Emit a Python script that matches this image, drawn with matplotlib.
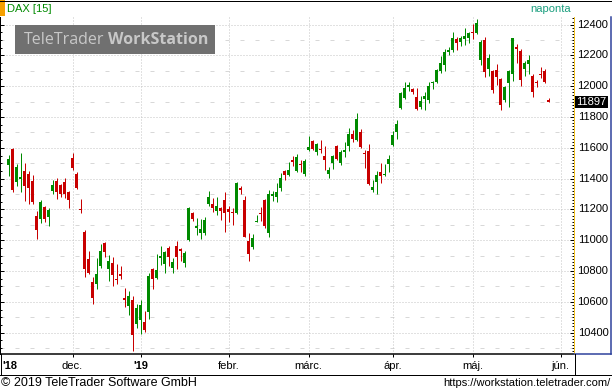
import matplotlib as mpl
mpl.use('Agg')
import matplotlib.pyplot as plt
from matplotlib.lines import Line2D
from matplotlib.patches import Rectangle
import numpy as np
import pandas as pd

plt.rcParams['font.family'] = ['Liberation Sans', 'DejaVu Sans']

# DAX daily candles, 9 Nov 2018 .. 29 May 2019
opens = [11488, 11592, 11380, 11397, 11449, 11430, 11384, 11157, 11138, 11216,
         11151, 11320, 11384, 11358, 11378, 11313, 11534, 11430, 11203, 11053,
         10878, 10729, 10716, 10833, 10982, 10813, 10852, 10748, 10781, 10625,
         10573, 10612, 10456, 10482, 10469, 10534, 10813, 10755, 10884, 10845,
         10949, 10820, 10962, 10943, 10852, 11001, 11177, 11079, 11047, 11047,
         11235, 11235, 11190, 11209, 11261, 11203, 11185, 11177, 11339, 11261,
         10995, 10958, 11120, 11177, 11261, 11047, 11287, 11281, 11339, 11449,
         11423, 11521, 11449, 11495, 11430, 11586, 11644, 11573, 11592, 11547,
         11430, 11501, 11612, 11501, 11573, 11612, 11690, 11651, 11703, 11566,
         11579, 11326, 11378, 11443, 11423, 11495, 11618, 11703, 11858, 11923,
         11995, 11982, 11930, 11865, 11917, 11910, 12021, 12027, 12099, 12138,
         12222, 12235, 12306, 12287, 12306, 12313, 12352, 12345, 12170, 12300,
         12112, 12099, 12105, 12047, 11910, 12021, 12079, 12254, 12229, 12112,
         12144, 12066, 12029, 12079, 12099, 11908]
highs = [11553, 11601, 11495, 11566, 11501, 11449, 11423, 11190, 11261, 11222,
         11209, 11391, 11404, 11365, 11404, 11320, 11566, 11443, 11268, 11066,
         10930, 10761, 10884, 10975, 10988, 10904, 10891, 10846, 10833, 10690,
         10670, 10638, 10586, 10612, 10540, 10787, 10820, 10910, 10962, 10930,
         10962, 10884, 10995, 10949, 10930, 11216, 11183, 11144, 11138, 11151,
         11320, 11274, 11281, 11216, 11313, 11222, 11209, 11378, 11352, 11287,
         11047, 11040, 11164, 11216, 11268, 11326, 11320, 11371, 11436, 11456,
         11508, 11547, 11560, 11521, 11527, 11677, 11651, 11631, 11651, 11612,
         11475, 11553, 11618, 11586, 11638, 11729, 11716, 11826, 11722, 11586,
         11625, 11391, 11449, 11501, 11495, 11553, 11709, 11781, 11962, 12027,
         12027, 11988, 11988, 11936, 11962, 12027, 12034, 12112, 12196, 12242,
         12254, 12352, 12320, 12326, 12378, 12352, 12404, 12436, 12300, 12320,
         12209, 12105, 12144, 12053, 12001, 12105, 12313, 12274, 12242, 12164,
         12203, 12079, 12040, 12125, 12112, 11926]
lows = [11417, 11313, 11352, 11313, 11255, 11235, 11235, 11008, 11112, 11118,
        11092, 11300, 11268, 11281, 11274, 11209, 11456, 11333, 11177, 10761,
        10782, 10586, 10683, 10820, 10891, 10735, 10703, 10716, 10748, 10566,
        10514, 10281, 10430, 10391, 10404, 10488, 10685, 10748, 10839, 10787,
        10833, 10787, 10813, 10865, 10826, 10995, 11125, 11034, 11008, 11034,
        11222, 11183, 11164, 11131, 11053, 11118, 11099, 11170, 11300, 11018,
        10865, 10943, 11118, 11125, 11079, 11021, 11255, 11248, 11320, 11391,
        11417, 11482, 11443, 11443, 11417, 11579, 11586, 11553, 11566, 11456,
        11404, 11462, 11521, 11488, 11540, 11579, 11638, 11644, 11599, 11469,
        11358, 11313, 11300, 11371, 11417, 11443, 11612, 11657, 11852, 11917,
        11969, 11949, 11848, 11852, 11845, 11891, 11982, 12021, 12086, 12099,
        12203, 12222, 12235, 12261, 12268, 12281, 12306, 12339, 12138, 12060,
        12066, 11956, 12008, 11845, 11897, 11865, 12034, 12151, 12001, 12066,
        12079, 11930, 11995, 12053, 12021, 11897]
closes = [11527, 11326, 11475, 11410, 11352, 11339, 11248, 11066, 11248, 11138,
          11196, 11358, 11313, 11300, 11300, 11261, 11469, 11339, 11198, 10813,
          10787, 10625, 10781, 10930, 10923, 10865, 10774, 10744, 10768, 10612,
          10638, 10384, 10560, 10579, 10417, 10768, 10748, 10807, 10897, 10923,
          10891, 10858, 10891, 10930, 10917, 11209, 11138, 11092, 11073, 11131,
          11281, 11209, 11222, 11190, 11177, 11183, 11179, 11371, 11326, 11021,
          10910, 11014, 11125, 11172, 11092, 11300, 11300, 11313, 11404, 11423,
          11456, 11508, 11540, 11491, 11514, 11605, 11592, 11625, 11588, 11521,
          11456, 11547, 11527, 11573, 11586, 11690, 11657, 11787, 11605, 11560,
          11365, 11345, 11423, 11417, 11430, 11527, 11683, 11755, 11956, 11988,
          12008, 11962, 11852, 11904, 11936, 12001, 12027, 12105, 12151, 12222,
          12235, 12313, 12281, 12313, 12326, 12345, 12348, 12410, 12287, 12092,
          12183, 11975, 12060, 11878, 11995, 12099, 12313, 12242, 12040, 12151,
          12170, 11962, 12021, 12073, 12027, 11897]
last_price = 11897

holidays = ['2018-12-24', '2018-12-25', '2018-12-26', '2018-12-31',
            '2019-01-01', '2019-04-19', '2019-04-22', '2019-05-01']
month_labels = ["dec.", "'19", "febr.", "márc.", "ápr.", "máj.", "jún."]
year_label = "'18"

# trading days (candle slots) up to the first June session
days = pd.bdate_range('2018-11-09', '2019-06-03', freq='C', holidays=holidays)
month_start = [i for i in range(1, len(days)) if days[i].month != days[i - 1].month]

GREEN = '#008a00'
RED = '#c80000'
W, H = 612, 392
PX = 72 / 100  # one pixel in points


def fy(py):
    return 1 - py / H


fig = plt.figure(figsize=(W / 100, H / 100), dpi=100)
ax = fig.add_axes([0, fy(354), 574 / W, (354 - 17) / H])

o, h, l, c = map(np.array, (opens, highs, lows, closes))
x = np.arange(len(o))
cols = np.where(c >= o, GREEN, RED)

ax.vlines(x, l, h, colors=cols, lw=PX, zorder=3)
ax.bar(x, np.maximum(np.abs(c - o), 7), bottom=np.minimum(o, c), width=0.75,
       color=cols, lw=0, zorder=4)

ax.set_xlim(-8.5 / 4, (574 - 8.5) / 4)
ax.set_ylim(12400 - (354 - 24.6) / 0.154, 12400 + (24.6 - 17) / 0.154)

# grid
major = np.arange(10400, 12401, 200)
minor = np.arange(10300, 12401, 200)
ax.hlines(major, 0, 1, transform=ax.get_yaxis_transform(), colors='#c4c4c4',
          lw=PX, linestyles=(0, (1, 2)), zorder=1)
ax.hlines(minor, 0, 1, transform=ax.get_yaxis_transform(), colors='#d8d8d8',
          lw=PX, linestyles=(15, (4, 11)), zorder=1)
ax.vlines(month_start, 0, 1, transform=ax.get_xaxis_transform(), colors='#c4c4c4',
          lw=PX, linestyles=(0, (1, 2)), zorder=1)

# axes frame and ticks
for s in ['top', 'right']:
    ax.spines[s].set_visible(False)
ax.spines['left'].set_linewidth(PX)
ax.spines['bottom'].set_linewidth(1.5 * PX)
ax.set_yticks(major)
ax.set_yticks(np.arange(10300, 12450, 50), minor=True)
ax.tick_params(axis='y', which='major', direction='in', length=4 * PX, width=PX,
               labelleft=False)
ax.tick_params(axis='y', which='minor', direction='in', length=2 * PX, width=PX)
ax.set_xticks(month_start)
ax.set_xticklabels([])
ax.tick_params(axis='x', direction='out', length=3 * PX, width=PX)

for i, lab in zip(month_start, month_labels):
    bold = lab.startswith("'")
    ax.text(i, -12 / 337, lab, transform=ax.get_xaxis_transform(), ha='center',
            va='center', fontsize=8, fontweight='bold' if bold else 'normal',
            clip_on=False)
fig.text(2 / W, fy(366), year_label, ha='left', va='center', fontsize=8,
         fontweight='bold')

# right price panel
axr = fig.add_axes([574 / W, fy(354), (611 - 574) / W, (354 - 17) / H])
axr.set_ylim(ax.get_ylim())
axr.set_xlim(0, 1)
axr.set_xticks([])
axr.set_yticks(major)
axr.set_yticks(np.arange(10280, 12450, 20), minor=True)
axr.set_yticklabels([])
axr.tick_params(axis='y', which='major', direction='out', length=4 * PX, width=PX)
axr.tick_params(axis='y', which='minor', direction='out', length=2 * PX, width=PX)
axr.spines['top'].set_visible(False)
axr.spines['left'].set_color('#f0c020')
axr.spines['left'].set_linewidth(PX)
for s in ['right', 'bottom']:
    axr.spines[s].set_color('#2a3f9a')
    axr.spines[s].set_linewidth(1.5 * PX)
for v in major:
    axr.text(0.93, v, str(v), ha='right', va='center', fontsize=8)
axr.text(0.06, last_price, str(last_price), ha='left', va='center', fontsize=8,
         color='white', bbox=dict(boxstyle='square,pad=0.12', fc='black', ec='none'))


# frame lines outside the axes
def hline(py, x0, x1, lw=1.0):
    fig.add_artist(Line2D([x0 / W, x1 / W], [fy(py)] * 2, transform=fig.transFigure,
                          color='black', lw=lw * PX))


def vline(px, y0, y1, lw=1.0):
    fig.add_artist(Line2D([px / W] * 2, [fy(y0), fy(y1)], transform=fig.transFigure,
                          color='black', lw=lw * PX))


hline(0.5, 0, W)
hline(374.5, 0, W)
vline(574.5, 354, 374)
vline(611.5, 354, 374)
vline(0.5, 354, 374)

# header
fig.add_artist(Rectangle((0, fy(16)), 5 / W, 16 / H, transform=fig.transFigure,
                         fc='#f5a000', ec='none'))
fig.text(7 / W, fy(9), 'DAX [15]', ha='left', va='center', fontsize=8, color=GREEN)
fig.text(571 / W, fy(9), 'naponta', ha='right', va='center', fontsize=8,
         color='#1a9e7e')

# logo
fig.add_artist(Rectangle((15 / W, fy(54)), 200 / W, 29 / H, transform=fig.transFigure,
                         fc='#707070', ec='none', zorder=10))
t1 = fig.text(24 / W, fy(39.5), 'TeleTrader', ha='left', va='center', fontsize=11.5,
              color='#c8c8c8', family='Open Sans', zorder=11)
fig.canvas.draw()
x_end = t1.get_window_extent().x1
fig.text((x_end + 4) / W, fy(39.5), 'WorkStation', ha='left', va='center',
         fontsize=11.5, color='#c8c8c8', family='Open Sans', fontweight='bold',
         zorder=11)

# footer
fig.text(1 / W, fy(383), '© 2019 TeleTrader Software GmbH', ha='left', va='center',
         fontsize=9)
fig.text(611 / W, fy(383), 'https://workstation.teletrader.com/', ha='right',
         va='center', fontsize=8)

fig.savefig('out.png', dpi=100)
